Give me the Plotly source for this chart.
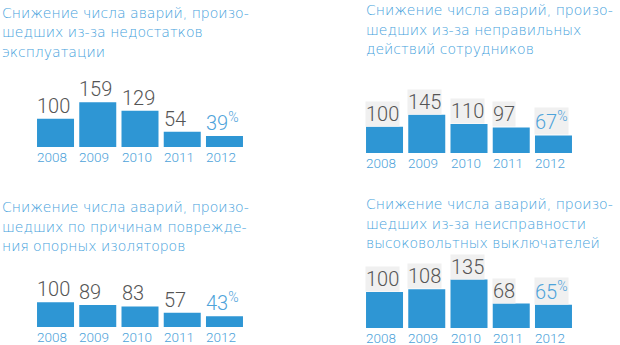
import plotly.graph_objects as go
from plotly.subplots import make_subplots

years = ["2008", "2009", "2010", "2011", "2012"]

titles = [
    ["Снижение числа аварий, произо-", "шедших из-за недостатков", "эксплуатации"],
    ["Снижение числа аварий, произо-", "шедших из-за неправильных", "действий сотрудников"],
    ["Снижение числа аварий, произо-", "шедших по причинам поврежде-", "ния опорных изоляторов"],
    ["Снижение числа аварий, произо-", "шедших из-за неисправности", "высоковольтных выключателей"],
]

values_maintenance = [100, 159, 129, 54, 39]
values_staff = [100, 145, 110, 97, 67]
values_insulators = [100, 89, 83, 57, 43]
values_breakers = [100, 108, 135, 68, 65]

series = [values_maintenance, values_staff, values_insulators, values_breakers]

W, H = 620, 345
BAR = "#2e96d4"
TITLE = "#45a2dc"
YEARC = "#4ea3da"
GRAY = "#555555"

# layout (pixels)
xdom_px = [(34.4, 245.6), (363.4, 574.6), (34.4, 245.6), (363.4, 574.6)]
base_px = [147, 153, 327, 328]
px_per_unit = [0.2815, 0.263, 0.248, 0.359]
title_x = [1, 365, 1, 365]
title_base = [18, 15, 212, 209]
LINE_GAP = 19.5
label_bg = [None, "#f0f0f0", None, "#f0f0f0"]
DOM_H = 70
bargap = 0.124
hw = (1 - bargap) / 2

fig = make_subplots(rows=2, cols=2)
annotations = []
for p, vals in enumerate(series):
    r, c = p // 2 + 1, p % 2 + 1
    xs = list(range(len(years)))
    fig.add_trace(go.Bar(x=xs, y=vals, marker=dict(color=BAR, line=dict(width=0)),
                         hoverinfo="skip", showlegend=False), row=r, col=c)
    ax = "" if p == 0 else str(p + 1)
    x0, x1 = xdom_px[p]
    b = base_px[p]
    fig.layout["xaxis" + ax].update(domain=[x0 / W, x1 / W], range=[-0.5, len(years) - 0.5],
                                   visible=False, fixedrange=True)
    fig.layout["yaxis" + ax].update(domain=[(H - b) / H, (H - b + DOM_H) / H],
                                   range=[0, DOM_H / px_per_unit[p]], visible=False, fixedrange=True)
    xref, yref = "x" + ax, "y" + ax
    for i, (yr, v) in enumerate(zip(years, vals)):
        last = i == len(years) - 1
        txt = f"{v}<sup>%</sup>" if last else str(v)
        a = dict(x=i - hw, y=v, xref=xref, yref=yref, text=txt, showarrow=False,
                 xanchor="left", yanchor="bottom", yshift=0, xshift=-1,
                 font=dict(family="Roboto", size=20, color=YEARC if last else GRAY,
                           weight=300),
                 borderpad=0)
        if label_bg[p]:
            a["bgcolor"] = label_bg[p]
        annotations.append(a)
        annotations.append(dict(x=i - hw, y=0, xref=xref, yref=yref, text=yr, showarrow=False,
                                xanchor="left", yanchor="top", yshift=-1, xshift=-1,
                                font=dict(family="Roboto", size=13.5, color=YEARC, weight=300),
                                borderpad=0))
    for j, line in enumerate(titles[p]):
        yc = title_base[p] + j * LINE_GAP - 5
        annotations.append(dict(x=title_x[p] / W, y=1 - yc / H, xref="paper", yref="paper",
                                text=line, showarrow=False, xanchor="left", yanchor="middle",
                                align="left", borderpad=0,
                                font=dict(family="DejaVu Sans", size=14, color=TITLE,
                                          weight=200)))

fig.update_layout(width=W, height=H, margin=dict(l=0, r=0, t=0, b=0),
                  paper_bgcolor="white", plot_bgcolor="white", bargap=bargap,
                  annotations=annotations, showlegend=False)
fig.write_html("out.html", config={"displayModeBar": False})
